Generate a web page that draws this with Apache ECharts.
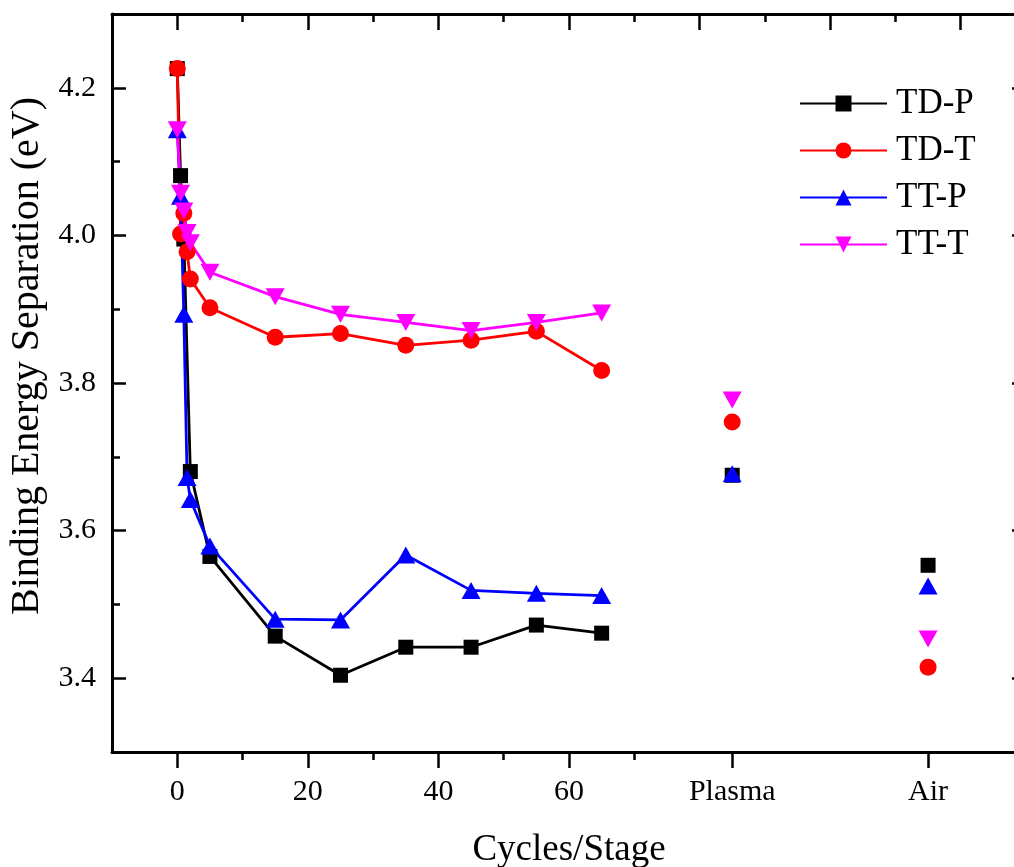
<!DOCTYPE html>
<html>
<head>
<meta charset="utf-8">
<script src="https://cdn.jsdelivr.net/npm/echarts@6/dist/echarts.min.js"></script>
<style>
  html, body { margin: 0; padding: 0; background: #fff; }
  #chart { width: 1014px; height: 867px; }
</style>
</head>
<body>
<div id="chart"></div>
<script>
// Cycle counts for the deposition series
const cycles = [0, 0.5, 1, 1.5, 2, 5, 15, 25, 35, 45, 55, 65];
// Binding energy separation (eV) per cycle
const tdP = [4.226, 4.081, 3.995, null, 3.680, 3.565, 3.457, 3.404, 3.442, 3.442, 3.472, 3.461];
const tdT = [4.226, 4.002, 4.030, 3.978, 3.941, 3.902, 3.862, 3.867, 3.851, 3.858, 3.870, 3.817];
const ttP = [4.143, 4.053, 3.893, 3.672, 3.642, 3.579, 3.480, 3.479, 3.567, 3.519, 3.515, 3.512];
const ttT = [4.143, 4.057, 4.033, 4.004, 3.990, 3.950, 3.917, 3.893, 3.882, 3.871, 3.882, 3.895];

// Post-treatment stages, placed on the same x scale
const stageNames = ['Plasma', 'Air'];
const stagePos = [85, 115];
const tdPStage = [3.675, 3.553];
const tdTStage = [3.747, 3.415];
const ttPStage = [3.677, 3.525];
const ttTStage = [3.777, 3.453];

// Tick positions / labels
const xMajorTicks = [0, 20, 40, 60];
const xMinorTicks = [10, 30, 50, 70];
const topMajorTicks = [0, 20, 40, 60, 80, 100, 120];
const topMinorTicks = [10, 30, 50, 70, 90, 110, 130];
const yMajorTicks = [3.4, 3.6, 3.8, 4.0, 4.2];
const yMinorTicks = [3.5, 3.7, 3.9, 4.1];

const FONT = '"Liberation Serif", "Times New Roman", serif';
const pairs = (xs, ys) => xs.map((x, i) => [x, ys[i]]).filter(p => p[1] !== null);

const seriesDefs = [
  { name: 'TD-P', color: '#000000', symbol: 'rect', size: 15, rot: 0, vals: tdP, stage: tdPStage },
  { name: 'TD-T', color: '#ff0000', symbol: 'circle', size: 17, rot: 0, vals: tdT, stage: tdTStage },
  { name: 'TT-P', color: '#0000ff', symbol: 'triangle', size: [19, 17], rot: 0, vals: ttP, stage: ttPStage },
  { name: 'TT-T', color: '#ff00ff', symbol: 'triangle', size: [19, 17], rot: 180, vals: ttT, stage: ttTStage }
];

const series = [];
seriesDefs.forEach(d => {
  series.push({
    name: d.name, type: 'line', xAxisIndex: 0, yAxisIndex: 0,
    data: pairs(cycles, d.vals),
    symbol: d.symbol, symbolSize: d.size, symbolRotate: d.rot,
    showAllSymbol: true, connectNulls: true,
    lineStyle: { color: d.color, width: 2.8 },
    itemStyle: { color: d.color, opacity: 1 },
    animation: false
  });
});
seriesDefs.forEach(d => {
  series.push({
    name: d.name, type: 'scatter', xAxisIndex: 0, yAxisIndex: 0,
    data: pairs(stagePos, d.stage),
    symbol: d.symbol, symbolSize: d.size, symbolRotate: d.rot,
    itemStyle: { color: d.color, opacity: 1 },
    animation: false
  });
});

const axisLine = { show: true, onZero: false, lineStyle: { color: '#000', width: 3 } };
const noLine = { show: false, onZero: false };
const tickStyle = { color: '#000', width: 2.5 };
const labelStyle = { color: '#000', fontFamily: FONT, fontSize: 30 };

const option = {
  backgroundColor: '#fff',
  animation: false,
  grid: { left: 112, top: 14, width: 914, height: 738, containLabel: false, outerBoundsMode: 'none' },
  legend: {
    orient: 'vertical', left: 794, top: 81,
    itemWidth: 87, itemHeight: 20, itemGap: 12,
    data: seriesDefs.map(d => d.name),
    textStyle: { fontFamily: FONT, fontSize: 35, color: '#000', padding: [0, 0, 0, 4] }
  },
  xAxis: [
    {
      type: 'value', position: 'bottom', min: -10, max: 130,
      name: 'Cycles/Stage', nameLocation: 'middle', nameGap: 80,
      nameTextStyle: { fontFamily: FONT, fontSize: 37, color: '#000' },
      axisLine: axisLine,
      axisTick: { show: true, inside: false, length: 16, lineStyle: tickStyle,
                  customValues: xMajorTicks.concat(stagePos) },
      axisLabel: { show: true, margin: 25, customValues: xMajorTicks.concat(stagePos), ...labelStyle,
                   formatter: v => { const i = stagePos.indexOf(v); return i >= 0 ? stageNames[i] : String(v); } },
      splitLine: { show: false }
    },
    {
      type: 'value', position: 'bottom', min: -10, max: 130, gridIndex: 0,
      axisLine: noLine,
      axisTick: { show: true, inside: false, length: 8, lineStyle: tickStyle, customValues: xMinorTicks },
      axisLabel: { show: false }, splitLine: { show: false }
    },
    {
      type: 'value', position: 'top', min: -10, max: 130, gridIndex: 0,
      axisLine: axisLine,
      axisTick: { show: true, inside: true, length: 16, lineStyle: tickStyle, customValues: topMajorTicks },
      axisLabel: { show: false }, splitLine: { show: false }
    },
    {
      type: 'value', position: 'top', min: -10, max: 130, gridIndex: 0,
      axisLine: noLine,
      axisTick: { show: true, inside: true, length: 8, lineStyle: tickStyle, customValues: topMinorTicks },
      axisLabel: { show: false }, splitLine: { show: false }
    }
  ],
  yAxis: [
    {
      type: 'value', position: 'left', min: 3.3, max: 4.3,
      name: 'Binding Energy Separation (eV)', nameLocation: 'middle', nameGap: 61,
      nameTextStyle: { fontFamily: FONT, fontSize: 40, color: '#000', padding: [0, 0, 0, 54] },
      axisLine: axisLine,
      axisTick: { show: true, inside: true, length: 14, lineStyle: tickStyle, customValues: yMajorTicks },
      axisLabel: { show: true, margin: 16, customValues: yMajorTicks, ...labelStyle,
                   formatter: v => v.toFixed(1) },
      splitLine: { show: false }
    },
    {
      type: 'value', position: 'left', min: 3.3, max: 4.3, gridIndex: 0,
      axisLine: noLine,
      axisTick: { show: true, inside: true, length: 8, lineStyle: tickStyle, customValues: yMinorTicks },
      axisLabel: { show: false }, splitLine: { show: false }
    },
    {
      type: 'value', position: 'right', min: 3.3, max: 4.3, gridIndex: 0,
      axisLine: axisLine,
      axisTick: { show: true, inside: true, length: 14, lineStyle: tickStyle, customValues: yMajorTicks },
      axisLabel: { show: false }, splitLine: { show: false }
    },
    {
      type: 'value', position: 'right', min: 3.3, max: 4.3, gridIndex: 0,
      axisLine: noLine,
      axisTick: { show: true, inside: true, length: 8, lineStyle: tickStyle, customValues: yMinorTicks },
      axisLabel: { show: false }, splitLine: { show: false }
    }
  ],
  series: series
};

const chart = echarts.init(document.getElementById('chart'), null, { renderer: 'canvas' });
chart.setOption(option);
</script>
</body>
</html>
